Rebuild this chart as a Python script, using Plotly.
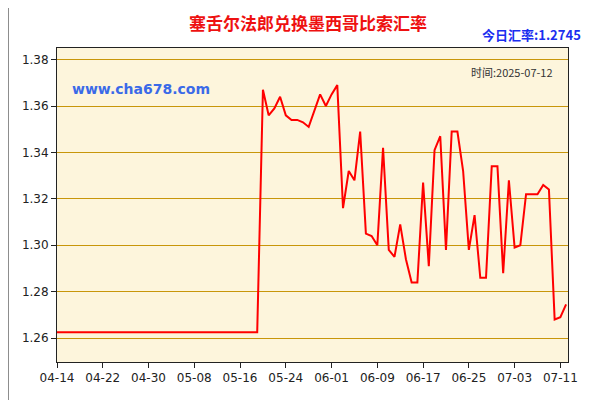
import pandas as pd
import plotly.graph_objects as go

dates = pd.date_range("2025-04-14", "2025-07-12", freq="D")
rates = [1.2625] * 36 + [
    1.367, 1.356, 1.359, 1.364, 1.356, 1.354, 1.354, 1.353, 1.351, 1.358,
    1.365, 1.360, 1.365, 1.369, 1.316, 1.332, 1.328, 1.349, 1.305, 1.304,
    1.300, 1.342, 1.298, 1.295, 1.309, 1.294, 1.284, 1.284, 1.327, 1.291,
    1.341, 1.347, 1.298, 1.349, 1.349, 1.332, 1.298, 1.313, 1.286, 1.286,
    1.334, 1.334, 1.288, 1.328, 1.299, 1.300, 1.322, 1.322, 1.322, 1.326,
    1.324, 1.268, 1.269, 1.2745,
]
y_ticks = [1.26, 1.28, 1.30, 1.32, 1.34, 1.36, 1.38]

fig = go.Figure()
fig.add_trace(go.Scatter(x=dates, y=rates, mode="lines",
                         line=dict(color="#ff0000", width=2), hoverinfo="skip"))

# page has an 8px body margin, so the margins are shifted to compensate
fig.update_layout(
    width=600, height=400, showlegend=False,
    margin=dict(l=49, r=40, t=40, b=46),
    paper_bgcolor="#ffffff", plot_bgcolor="#fdf5dc",
    font=dict(family="DejaVu Sans", size=12, color="#222"),
    title=dict(text="<b>塞舌尔法郎兑换墨西哥比索汇率</b>", x=0.5, y=0.975, xanchor="center",
               font=dict(family="Noto Sans CJK SC", size=17, color="#ee1111")),
    shapes=[dict(type="rect", xref="paper", yref="paper", x0=-0.095, x1=1.053, y0=-0.123, y1=1.146,
                 line=dict(color="#888", width=1))],
    annotations=[
        dict(text="<b>今日汇率:1.2745</b>", xref="paper", yref="paper", x=1.03, y=1.005,
             xanchor="right", yanchor="bottom", showarrow=False,
             font=dict(family="Noto Sans CJK SC", size=13, color="#1a2ef0")),
        dict(text="<b>www.cha678.com</b>", xref="paper", yref="paper", x=0.025, y=0.9,
             xanchor="left", showarrow=False,
             font=dict(family="DejaVu Sans", size=14, color="#3a6ae8")),
        dict(text="时间:2025-07-12", xref="paper", yref="paper", x=0.975, y=0.955,
             xanchor="right", showarrow=False,
             font=dict(family="Noto Sans CJK SC", size=11, color="#333")),
    ],
)
fig.update_xaxes(type="date", range=["2025-04-14", "2025-07-12 08:00"],
                 tick0="2025-04-14", dtick=8 * 86400000, tickformat="%m-%d",
                 showgrid=False, showline=True, linecolor="#222", mirror=True,
                 ticks="outside", ticklen=5, tickcolor="#222", tickfont=dict(size=12))
fig.update_yaxes(range=[1.2497, 1.385], tickvals=y_ticks, tickformat=".2f",
                 gridcolor="#c8960a", gridwidth=1, showline=True, linecolor="#222", mirror=True,
                 ticks="outside", ticklen=5, tickcolor="#222", zeroline=False, tickfont=dict(size=12))

fig.write_html("out.html")
